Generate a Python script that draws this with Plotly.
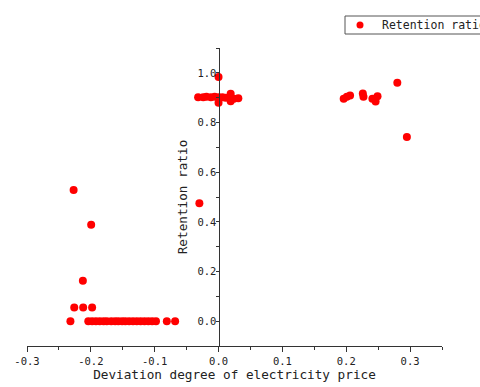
import plotly.graph_objects as go

# Deviation degree of electricity price (x) and retention ratio (y)
x_low = [-0.2125, -0.226, -0.212, -0.198, -0.232, -0.227, -0.1995]
y_low = [0.163, 0.055, 0.055, 0.055, 0.0, 0.528, 0.388]

x_zero = [-0.204, -0.198, -0.192, -0.186, -0.180, -0.175, -0.168, -0.162, -0.157,
          -0.151, -0.146, -0.140, -0.134, -0.128, -0.122, -0.116, -0.110, -0.104,
          -0.098, -0.081, -0.068]
y_zero = [0.0] * len(x_zero)

x_mid = [-0.030, 0.0, -0.032, -0.024, -0.019, -0.012, -0.006, 0.0, 0.006, 0.011,
         0.018, 0.024, 0.031, 0.0, 0.019, 0.019]
y_mid = [0.475, 0.983, 0.902, 0.902, 0.904, 0.902, 0.904, 0.902, 0.902, 0.900,
         0.898, 0.896, 0.898, 0.880, 0.916, 0.886]

x_high = [0.196, 0.201, 0.206, 0.226, 0.227, 0.241, 0.246, 0.249, 0.280, 0.295]
y_high = [0.896, 0.904, 0.909, 0.917, 0.904, 0.896, 0.885, 0.906, 0.960, 0.742]

x_vals = x_low + x_zero + x_mid + x_high
y_vals = y_low + y_zero + y_mid + y_high

x_ticks = [-0.3, -0.2, -0.1, 0.0, 0.1, 0.2, 0.3]
x_tick_text = ["-0.3", "-0.2", "-0.1", "0.0", "0.1", "0.2", "0.3"]
y_ticks = [0.0, 0.2, 0.4, 0.6, 0.8, 1.0]
y_tick_text = ["0.0", "0.2", "0.4", "0.6", "0.8", "1.0"]
series_name = "Retention ratio"

FONT = "DejaVu Sans Mono"
W, H = 480, 387
# plot area in window pixels: x 27..442, y 48..346
ML, MT = 27, 48
MR, MB = W - 442, H - 346
PW, PH = W - ML - MR, H - MT - MB


def px_x(p):
    return (p - ML) / PW


def px_y(p):
    return (H - MB - p) / PH


fig = go.Figure()
fig.add_trace(go.Scatter(
    x=x_vals, y=y_vals, mode="markers", name=series_name,
    marker=dict(color="#ff0000", size=8, line=dict(width=0)),
    showlegend=False,
))

# legend drawn manually so it can overflow the right edge like the reference
fig.add_shape(type="rect", xref="paper", yref="paper",
              x0=px_x(345), x1=px_x(520), y0=px_y(34), y1=px_y(16),
              line=dict(color="#555555", width=1), fillcolor="white", layer="above")
fig.add_shape(type="circle", xref="paper", yref="paper",
              xsizemode="pixel", ysizemode="pixel",
              xanchor=px_x(360), yanchor=px_y(25), x0=-3.5, x1=3.5, y0=-3.5, y1=3.5,
              line=dict(width=0), fillcolor="#ff0000", layer="above")
fig.add_annotation(text=series_name, xref="paper", yref="paper",
                   x=px_x(380), y=px_y(25), xanchor="left", yanchor="middle",
                   showarrow=False, font=dict(family=FONT, size=11.5, color="#222222"))

fig.update_layout(
    width=W, height=H,
    margin=dict(l=ML, r=MR, t=MT, b=MB),
    paper_bgcolor="white", plot_bgcolor="white",
    font=dict(family=FONT, color="#222222", size=10),
    showlegend=False,
    xaxis=dict(
        range=[-0.3, 0.35], showgrid=False, zeroline=False,
        showline=True, linecolor="#333333", linewidth=1,
        tickvals=x_ticks, ticktext=x_tick_text,
        ticks="outside", ticklen=5, tickcolor="#333333",
        minor=dict(dtick=0.05, tick0=0, ticks="outside", ticklen=3, tickcolor="#333333"),
        tickfont=dict(family=FONT, size=10.5, color="#222222"),
        title=dict(text="Deviation degree of electricity price",
                   font=dict(family=FONT, size=12.7, color="#222222"), standoff=2),
        automargin=False,
    ),
    yaxis=dict(
        range=[-0.1, 1.1], showgrid=False, zeroline=False,
        anchor="free", position=0.3 / 0.65,
        showline=True, linecolor="#333333", linewidth=1,
        tickvals=y_ticks, ticktext=y_tick_text,
        ticks="", tickcolor="#333333",
        minor=dict(dtick=0.1, tick0=0, ticks="outside", ticklen=3, tickcolor="#333333"),
        tickfont=dict(family=FONT, size=10.5, color="#222222"),
        title=dict(text="Retention ratio",
                   font=dict(family=FONT, size=12.7, color="#222222"), standoff=6),
        automargin=False,
    ),
)

fig.write_html(
    "out.html",
    config={"displayModeBar": False, "staticPlot": True},
    post_script="document.body.style.margin='0';document.body.style.overflow='hidden';",
)
